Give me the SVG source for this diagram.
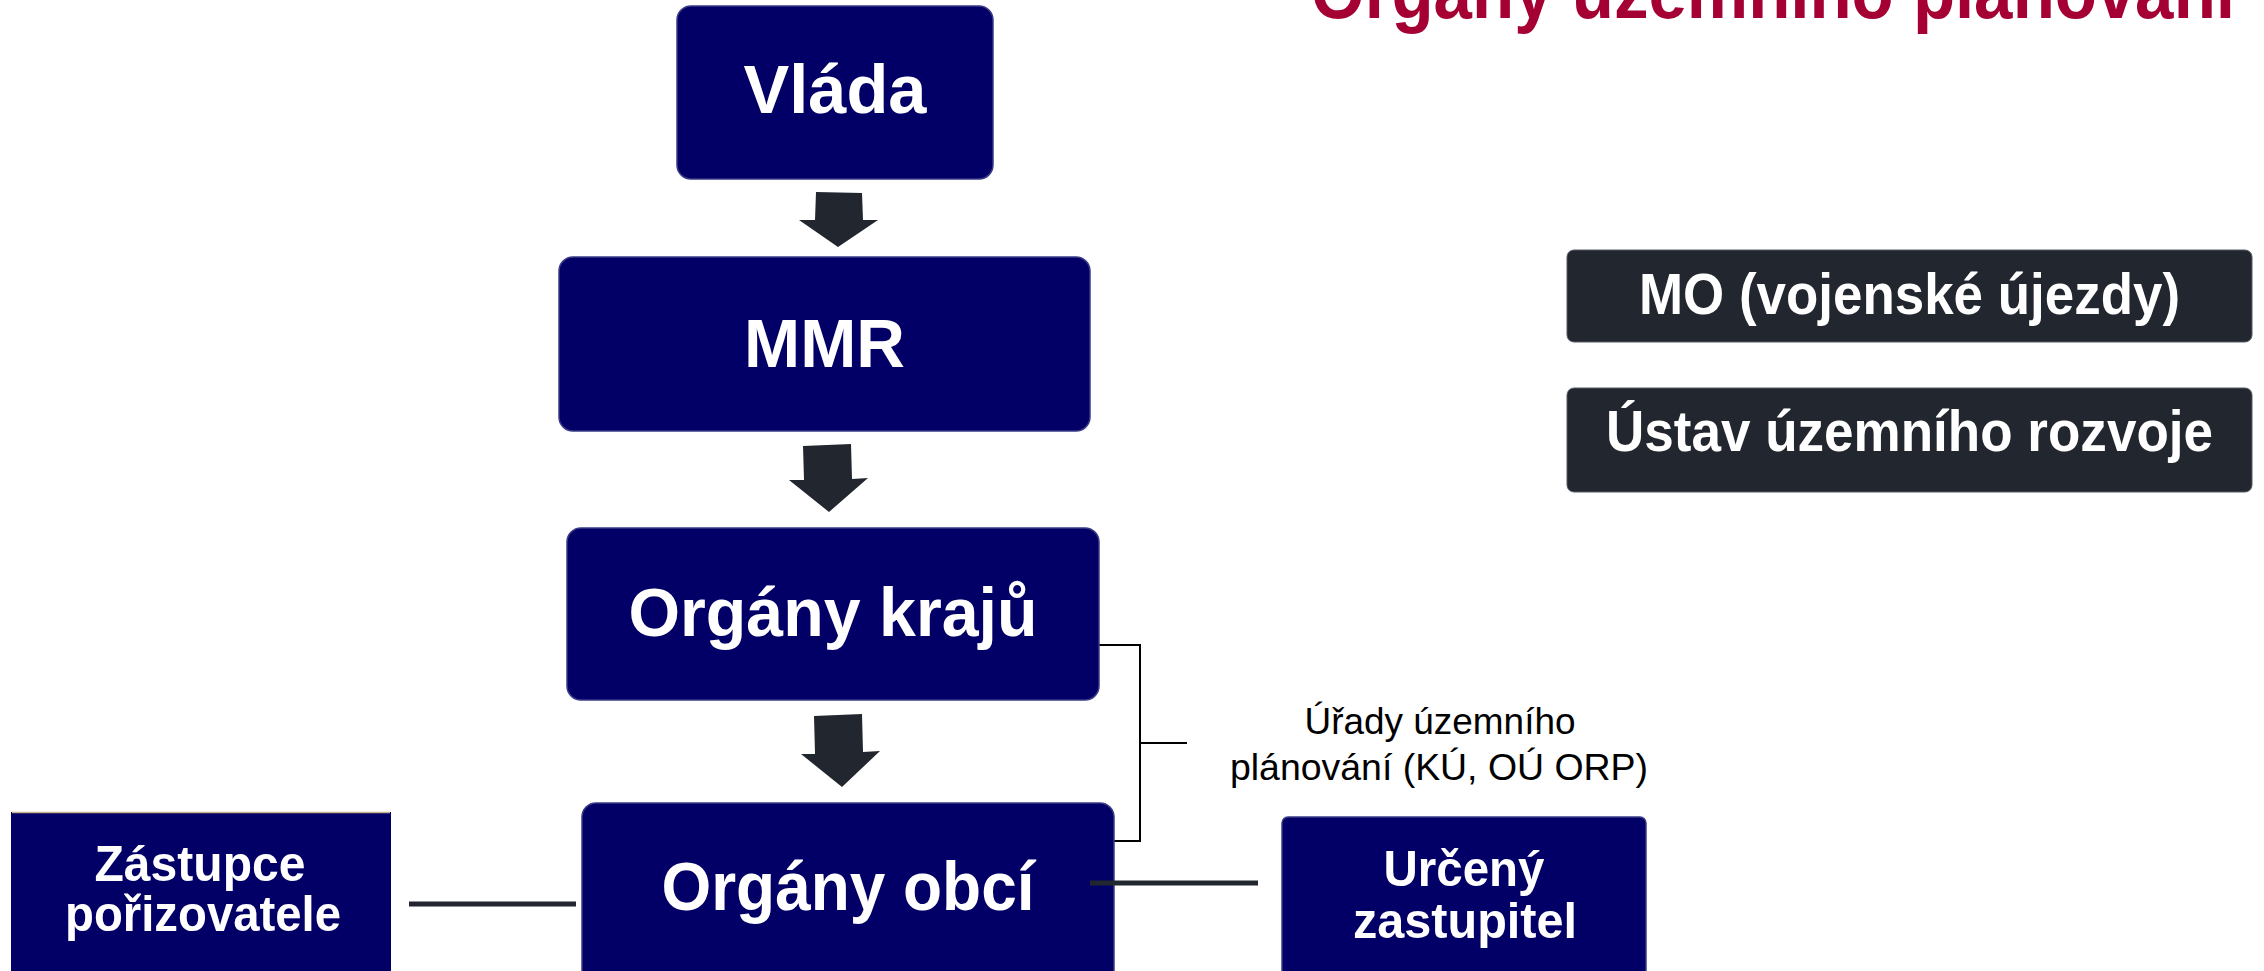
<svg xmlns="http://www.w3.org/2000/svg" width="2264" height="971" viewBox="0 0 2264 971">
<style>
.nv{fill:#020066;stroke:#3a3a86;stroke-width:1.5}
.dk{fill:#22262e;stroke:#555a62;stroke-width:1}
.bt{font-family:"Liberation Sans",Arial,sans-serif;font-weight:bold;fill:#ffffff;text-anchor:middle}
.lb{font-family:"Liberation Sans",Arial,sans-serif;fill:#000000;text-anchor:middle;font-size:37px}
.arr{fill:#22262e}
.thin{fill:none;stroke:#000000;stroke-width:2}
.thick{fill:none;stroke:#22262e;stroke-width:5}
</style>
<text id="title" x="1773" y="18" font-family="'Liberation Sans',Arial,sans-serif" font-weight="bold" font-size="76" fill="#a50034" text-anchor="middle" textLength="924" lengthAdjust="spacingAndGlyphs">Orgány územního plánování</text>
<g id="connectors">
<polygon class="arr" points="816,192 862,193 863,220 878,220 838,247 799,220 815,220"/>
<polygon class="arr" points="803,446 851,444 852,479 868,478 829,512 789,480 804,480"/>
<polygon class="arr" points="814,716 862,714 863,752 880,751 842,787 801,754 815,754"/>
<path class="thin" d="M1094,645 H1140 V841 H1094 M1140,743 H1187"/>
<line class="thick" x1="409" y1="904" x2="576" y2="904"/>
</g>
<g id="vlada"><rect class="nv" x="677" y="6" width="316" height="173" rx="14"/><text class="bt" x="835" y="113" font-size="69" textLength="183" lengthAdjust="spacingAndGlyphs">Vláda</text></g>
<g id="mmr"><rect class="nv" x="559" y="257" width="531" height="174" rx="14"/><text class="bt" x="824.5" y="367" font-size="69" textLength="161" lengthAdjust="spacingAndGlyphs">MMR</text></g>
<g id="kraje"><rect class="nv" x="567" y="528" width="532" height="172" rx="14"/><text class="bt" x="833" y="636" font-size="69" textLength="409" lengthAdjust="spacingAndGlyphs">Orgány krajů</text></g>
<g id="obce"><rect class="nv" x="582" y="803" width="532" height="190" rx="14"/><text class="bt" x="848" y="910" font-size="69" textLength="373" lengthAdjust="spacingAndGlyphs">Orgány obcí</text></g>
<g id="zastupce"><rect x="11" y="812" width="380" height="180" fill="#020066"/><line x1="12" y1="812.5" x2="390" y2="812.5" stroke="#c8b48a" stroke-width="1.5"/><text class="bt" x="200" y="881" font-size="50" textLength="211" lengthAdjust="spacingAndGlyphs">Zástupce</text><text class="bt" x="203" y="931" font-size="50" textLength="276" lengthAdjust="spacingAndGlyphs">pořizovatele</text></g>
<g id="urceny"><rect class="nv" x="1282" y="817" width="364" height="175" rx="6"/><text class="bt" x="1464" y="886" font-size="50" textLength="161" lengthAdjust="spacingAndGlyphs">Určený</text><text class="bt" x="1465" y="938" font-size="50" textLength="224" lengthAdjust="spacingAndGlyphs">zastupitel</text></g>
<g id="line-urceny"><line class="thick" x1="1090" y1="883" x2="1258" y2="883"/></g>
<g id="urady"><text class="lb" x="1440" y="734" textLength="271" lengthAdjust="spacingAndGlyphs">Úřady územního</text><text class="lb" x="1439" y="780" textLength="418" lengthAdjust="spacingAndGlyphs">plánování (KÚ, OÚ ORP)</text></g>
<g id="mo"><rect class="dk" x="1567" y="250" width="685" height="92" rx="7"/><text class="bt" x="1909.5" y="314" font-size="58" textLength="541" lengthAdjust="spacingAndGlyphs">MO (vojenské újezdy)</text></g>
<g id="uur"><rect class="dk" x="1567" y="388" width="685" height="104" rx="7"/><text class="bt" x="1909.5" y="451" font-size="58" textLength="607" lengthAdjust="spacingAndGlyphs">Ústav územního rozvoje</text></g>
</svg>
